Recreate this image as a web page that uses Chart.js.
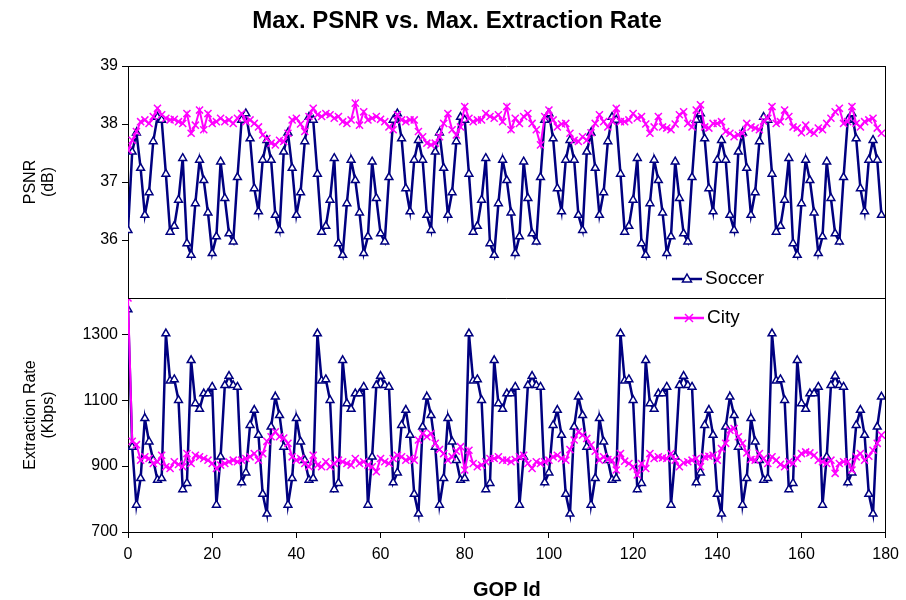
<!DOCTYPE html>
<html>
<head>
<meta charset="utf-8">
<style>
  html, body { margin: 0; padding: 0; background: #fff; overflow: hidden; }
  .wrap { position: relative; width: 906px; height: 600px; }
  canvas { display: block; }
  .titulo {
    position: absolute; left: 57px; top: 6px; width: 800px;
    text-align: center; line-height: 28px;
    font: bold 24px "Liberation Sans", Arial, sans-serif; color: #000;
  }
</style>
<script src="https://cdn.jsdelivr.net/npm/chart.js@4/dist/chart.umd.min.js"></script>
</head>
<body>
<div class="wrap">
  <canvas id="chartPsnr" width="906" height="600"></canvas>
  <div class="titulo">Max. PSNR vs. Max. Extraction Rate</div>
</div>
<script>
// ── Data ─────────────────────────────────────────────────────────────────
const gopTicks  = [0, 20, 40, 60, 80, 100, 120, 140, 160, 180];
const psnrTicks = [36, 37, 38, 39];
const rateTicks = [700, 900, 1100, 1300];

// Max. PSNR (dB), GOP 0..179
const psnrSoccer = [
  36.17, 37.52, 37.85, 37.24, 36.43, 36.82, 37.70, 38.12, 38.07, 37.14, 36.14, 36.24, 36.69, 37.41, 35.94, 35.74, 36.63, 37.38,
  37.03, 36.47, 35.77, 36.06, 37.35, 36.72, 36.11, 35.97, 37.08, 38.07, 38.18, 37.75, 36.89, 36.49, 37.38, 37.72, 37.38, 36.43,
  36.17, 37.52, 37.85, 37.24, 36.43, 36.82, 37.70, 38.12, 38.07, 37.14, 36.14, 36.24, 36.69, 37.41, 35.94, 35.74, 36.63, 37.38,
  37.03, 36.47, 35.77, 36.06, 37.35, 36.72, 36.11, 35.97, 37.08, 38.07, 38.18, 37.75, 36.89, 36.49, 37.38, 37.72, 37.38, 36.43,
  36.17, 37.52, 37.85, 37.24, 36.43, 36.82, 37.70, 38.12, 38.07, 37.14, 36.14, 36.24, 36.69, 37.41, 35.94, 35.74, 36.63, 37.38,
  37.03, 36.47, 35.77, 36.06, 37.35, 36.72, 36.11, 35.97, 37.08, 38.07, 38.18, 37.75, 36.89, 36.49, 37.38, 37.72, 37.38, 36.43,
  36.17, 37.52, 37.85, 37.24, 36.43, 36.82, 37.70, 38.12, 38.07, 37.14, 36.14, 36.24, 36.69, 37.41, 35.94, 35.74, 36.63, 37.38,
  37.03, 36.47, 35.77, 36.06, 37.35, 36.72, 36.11, 35.97, 37.08, 38.07, 38.18, 37.75, 36.89, 36.49, 37.38, 37.72, 37.38, 36.43,
  36.17, 37.52, 37.85, 37.24, 36.43, 36.82, 37.70, 38.12, 38.07, 37.14, 36.14, 36.24, 36.69, 37.41, 35.94, 35.74, 36.63, 37.38,
  37.03, 36.47, 35.77, 36.06, 37.35, 36.72, 36.11, 35.97, 37.08, 38.07, 38.18, 37.75, 36.89, 36.49, 37.38, 37.72, 37.38, 36.43,
];
const psnrCity = [
  37.55, 37.72, 37.87, 38.04, 38.07, 38.01, 38.13, 38.27, 38.16, 38.10, 38.07, 38.08, 38.04, 38.01, 38.18, 37.84, 37.98, 38.24,
  37.90, 38.18, 38.01, 38.04, 38.10, 38.04, 38.07, 38.01, 38.10, 38.18, 38.04, 38.07, 38.01, 37.95, 37.81, 37.75, 37.67, 37.64,
  37.72, 37.70, 37.84, 38.07, 38.10, 38.00, 37.87, 38.13, 38.27, 38.16, 38.13, 38.18, 38.16, 38.10, 38.13, 38.04, 38.01, 38.07,
  38.36, 37.98, 38.21, 38.07, 38.10, 38.13, 38.08, 38.04, 37.95, 37.90, 38.16, 38.07, 38.04, 38.07, 38.07, 37.87, 37.78, 37.67,
  37.64, 37.67, 37.78, 38.01, 38.18, 37.90, 37.81, 37.95, 38.30, 38.10, 38.04, 38.07, 38.07, 38.18, 38.13, 38.10, 38.16, 38.04,
  38.30, 37.90, 38.10, 38.01, 38.13, 38.18, 38.01, 37.90, 37.64, 38.13, 38.24, 38.07, 37.95, 38.00, 38.01, 37.84, 37.72, 37.70,
  37.78, 37.72, 37.85, 38.01, 38.16, 38.04, 37.95, 38.05, 38.27, 38.04, 38.04, 38.07, 38.18, 38.10, 38.13, 38.00, 37.84, 37.95,
  38.13, 37.95, 37.93, 37.90, 38.00, 38.16, 38.21, 38.01, 37.95, 38.24, 38.33, 37.95, 37.93, 38.01, 38.01, 38.04, 37.87, 37.84,
  37.78, 37.81, 37.84, 38.01, 37.95, 37.93, 37.90, 38.05, 38.10, 38.30, 38.01, 38.04, 38.24, 38.13, 37.95, 37.93, 37.85, 37.98,
  37.87, 37.84, 37.93, 37.90, 38.01, 38.10, 38.21, 38.27, 38.01, 38.04, 38.30, 38.01, 37.95, 38.04, 38.07, 38.10, 37.93, 37.84,
];

// Max. extraction rate (Kbps), GOP 0..179
const rateSoccer = [
  1375,  958,  782,  863, 1045,  974,  918,  858,  863, 1302, 1159, 1163, 1100,  829,  848, 1221, 1090, 1073,
  1120, 1120, 1140,  782,  928, 1145, 1173, 1145, 1140,  850,  880, 1024, 1070,  994,  815,  755, 1019, 1110,
  1054,  958,  782,  863, 1045,  974,  918,  858,  863, 1302, 1159, 1163, 1100,  829,  848, 1221, 1090, 1073,
  1120, 1120, 1140,  782,  928, 1145, 1173, 1145, 1140,  850,  880, 1024, 1070,  994,  815,  755, 1019, 1110,
  1054,  958,  782,  863, 1045,  974,  918,  858,  863, 1302, 1159, 1163, 1100,  829,  848, 1221, 1090, 1073,
  1120, 1120, 1140,  782,  928, 1145, 1173, 1145, 1140,  850,  880, 1024, 1070,  994,  815,  755, 1019, 1110,
  1054,  958,  782,  863, 1045,  974,  918,  858,  863, 1302, 1159, 1163, 1100,  829,  848, 1221, 1090, 1073,
  1120, 1120, 1140,  782,  928, 1145, 1173, 1145, 1140,  850,  880, 1024, 1070,  994,  815,  755, 1019, 1110,
  1054,  958,  782,  863, 1045,  974,  918,  858,  863, 1302, 1159, 1163, 1100,  829,  848, 1221, 1090, 1073,
  1120, 1120, 1140,  782,  928, 1145, 1173, 1145, 1140,  850,  880, 1024, 1070,  994,  815,  755, 1019, 1110,
];
const rateCity = [
  1410,  975,  965,  918,  928,  923,  908,  913,  933,  898,  893,  913,  905,  898,  938,  908,  933,  928,
   923,  918,  908,  893,  903,  908,  913,  918,  913,  918,  923,  928,  938,  918,  938,  975,  989, 1004,
   989,  985,  969,  928,  918,  923,  908,  898,  933,  903,  898,  913,  898,  908,  918,  913,  908,  903,
   923,  908,  913,  903,  898,  883,  923,  913,  908,  923,  933,  928,  918,  923,  918,  979,  999,  989,
   999,  969,  950,  938,  918,  928,  945,  959,  888,  948,  908,  898,  903,  913,  923,  923,  928,  918,
   918,  913,  920,  928,  933,  908,  893,  913,  908,  913,  918,  928,  933,  923,  918,  950,  979, 1004,
   994,  984,  964,  945,  918,  928,  920,  918,  888,  938,  915,  908,  898,  873,  908,  893,  938,  923,
   928,  925,  923,  938,  918,  898,  910,  913,  918,  923,  898,  928,  930,  933,  918,  953,  969, 1009,
  1014,  989,  969,  940,  920,  918,  938,  923,  908,  928,  918,  905,  898,  913,  908,  923,  938,  943,
   940,  933,  918,  913,  908,  918,  878,  908,  913,  913,  888,  928,  938,  918,  930,  948,  969,  994,
];

const gopIds = psnrSoccer.map((_, i) => i);

// ── Estilos ──────────────────────────────────────────────────────────────
const NAVY    = "#000080";
const MAGENTA = "#FF00FF";
const FONT    = "'Liberation Sans', Arial, sans-serif";

const fixTicks = (values) => (scale) => {
  scale.ticks = values.map((v) => ({ value: v }));
};
const plain = (v) => String(v);

// marco del area de trazado + linea divisoria entre paneles
const framePlugin = {
  id: "frame",
  afterDatasetsDraw(chart) {
    const { ctx, chartArea: a, scales } = chart;
    const yDiv = Math.round(scales.yPsnr.bottom) + 0.5;
    ctx.save();
    ctx.strokeStyle = "#000";
    ctx.lineWidth = 1;
    ctx.beginPath();
    ctx.moveTo(a.left, Math.round(a.top) + 0.5);
    ctx.lineTo(a.right, Math.round(a.top) + 0.5);
    ctx.moveTo(Math.round(a.right) - 0.5, a.top);
    ctx.lineTo(Math.round(a.right) - 0.5, a.bottom);
    ctx.moveTo(a.left, yDiv);
    ctx.lineTo(a.right, yDiv);
    ctx.stroke();
    ctx.restore();
  },
};

// leyenda flotante (una entrada en cada panel)
const legendPlugin = {
  id: "panelLegend",
  afterDraw(chart) {
    const { ctx } = chart;
    const items = [
      { text: "Soccer", color: NAVY,    marker: "triangle", x: 672, y: 279 },
      { text: "City",   color: MAGENTA, marker: "cross",    x: 674, y: 318 },
    ];
    items.forEach((it) => {
      const cx = it.x + 15;
      ctx.save();
      ctx.strokeStyle = it.color;
      ctx.lineWidth = 2.5;
      ctx.beginPath();
      ctx.moveTo(it.x, it.y);
      ctx.lineTo(it.x + 30, it.y);
      ctx.stroke();
      ctx.lineWidth = 1.5;
      ctx.beginPath();
      if (it.marker === "triangle") {
        ctx.moveTo(cx, it.y - 5);
        ctx.lineTo(cx + 4.5, it.y + 3);
        ctx.lineTo(cx - 4.5, it.y + 3);
        ctx.closePath();
        ctx.fillStyle = "#fff";
        ctx.fill();
      } else {
        ctx.moveTo(cx - 4, it.y - 4);
        ctx.lineTo(cx + 4, it.y + 4);
        ctx.moveTo(cx + 4, it.y - 4);
        ctx.lineTo(cx - 4, it.y + 4);
      }
      ctx.stroke();
      ctx.fillStyle = "#000";
      ctx.font = `19px ${FONT}`;
      ctx.textBaseline = "middle";
      ctx.fillText(it.text, it.x + 33, it.y);
      ctx.restore();
    });
  },
};

// ── Grafica ──────────────────────────────────────────────────────────────
const tickFont = { family: FONT, size: 16 };

new Chart(document.getElementById("chartPsnr"), {
  type: "line",
  data: {
    labels: gopIds,
    datasets: [
      {
        label: "Soccer", data: psnrSoccer, yAxisID: "yPsnr", order: 2,
        borderColor: NAVY, borderWidth: 2.5, tension: 0,
        pointStyle: "triangle", pointRadius: 4.5, pointBorderWidth: 1.5,
        pointBackgroundColor: "#fff", pointBorderColor: NAVY,
      },
      {
        label: "Soccer", data: rateSoccer, yAxisID: "yRate", order: 2,
        borderColor: NAVY, borderWidth: 2.5, tension: 0,
        pointStyle: "triangle", pointRadius: 4.5, pointBorderWidth: 1.5,
        pointBackgroundColor: "#fff", pointBorderColor: NAVY,
      },
      {
        label: "City", data: psnrCity, yAxisID: "yPsnr", order: 1,
        borderColor: MAGENTA, borderWidth: 2, tension: 0,
        pointStyle: "crossRot", pointRadius: 5, pointBorderWidth: 1.5,
        pointBorderColor: MAGENTA,
      },
      {
        label: "City", data: rateCity, yAxisID: "yRate", order: 1,
        borderColor: MAGENTA, borderWidth: 2, tension: 0,
        pointStyle: "crossRot", pointRadius: 5, pointBorderWidth: 1.5,
        pointBorderColor: MAGENTA,
      },
    ],
  },
  options: {
    responsive: false,
    animation: false,
    layout: { padding: { right: 20, left: 0, bottom: 0, top: 66 } },
    plugins: {
      legend: { display: false },
      tooltip: { enabled: false },
      title: { display: false },
    },
    scales: {
      x: {
        type: "linear", min: 0, max: 180,
        afterBuildTicks: fixTicks(gopTicks),
        afterFit: (s) => { s.height = 68; },
        grid: { drawOnChartArea: false, tickLength: 6, color: "#000" },
        border: { color: "#000" },
        ticks: { font: tickFont, color: "#000", padding: 7, maxRotation: 0, callback: plain },
        title: {
          display: true, text: "GOP Id", color: "#000",
          font: { family: FONT, size: 20, weight: "bold", lineHeight: 1 },
          padding: { top: 0, bottom: 0 },
        },
      },
      yRate: {
        position: "left", stack: "panels", stackWeight: 234,
        min: 700, max: 1410,
        afterBuildTicks: fixTicks(rateTicks),
        afterFit: (s) => { s.width = 128; },
        grid: { drawOnChartArea: false, tickLength: 6, color: "#000" },
        border: { color: "#000" },
        ticks: { font: tickFont, color: "#000", padding: 4, callback: plain },
        title: {
          display: true, text: ["Extraction Rate", "(Kbps)"], color: "#000",
          font: { family: FONT, size: 16, lineHeight: 1.15 },
          padding: { top: 21, bottom: 0 },
        },
      },
      yPsnr: {
        position: "left", stack: "panels", stackWeight: 232,
        min: 35, max: 39,
        afterBuildTicks: fixTicks(psnrTicks),
        afterFit: (s) => { s.width = 128; },
        grid: { drawOnChartArea: false, tickLength: 6, color: "#000" },
        border: { color: "#000" },
        ticks: { font: tickFont, color: "#000", padding: 4, callback: plain },
        title: {
          display: true, text: ["PSNR", "(dB)"], color: "#000",
          font: { family: FONT, size: 16, lineHeight: 1.15 },
          padding: { top: 21, bottom: 0 },
        },
      },
    },
  },
  plugins: [framePlugin, legendPlugin],
});
</script>
</body>
</html>
